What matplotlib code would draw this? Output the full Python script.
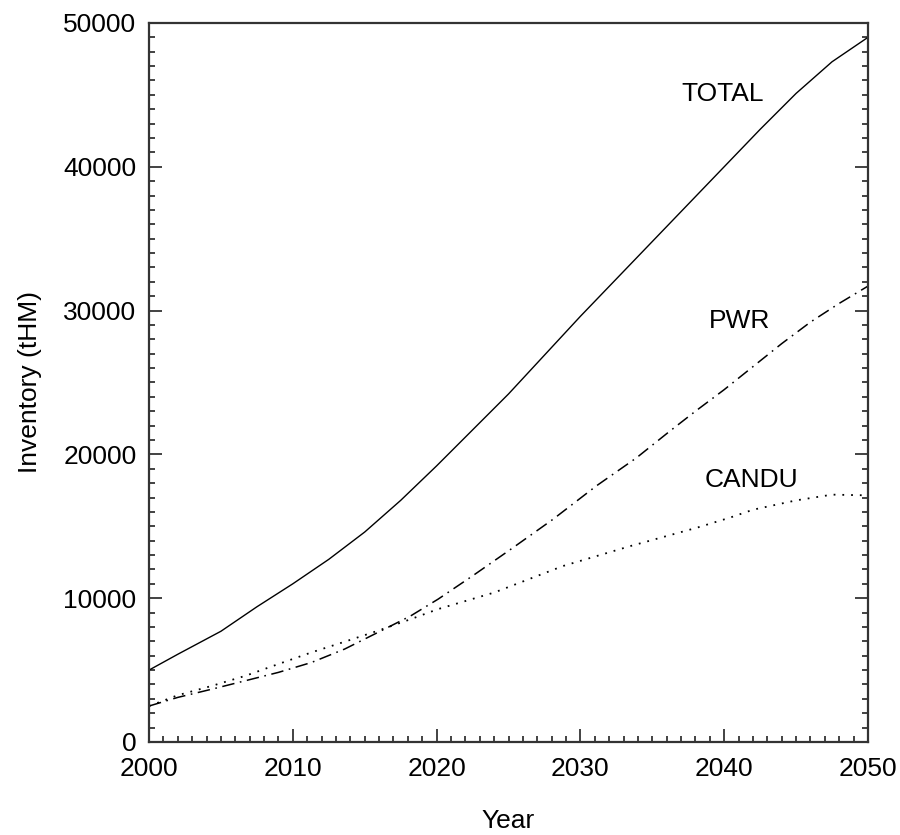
import matplotlib
matplotlib.use("Agg")
import matplotlib.pyplot as plt
from matplotlib.ticker import MultipleLocator

plt.rcParams['font.family'] = ['Liberation Sans', 'DejaVu Sans']
plt.rcParams['lines.scale_dashes'] = False

total_years = [2000, 2002, 2005, 2007.5, 2010, 2012.5, 2015, 2017.5, 2020,
               2022.5, 2025, 2027.5, 2030, 2032.5, 2035, 2037.5, 2040, 2042.5, 2045, 2047.5, 2050]
total_vals = [5000, 6100, 7700, 9400, 11000, 12700, 14600, 16800, 19200,
              21700, 24200, 26900, 29600, 32200, 34800, 37400, 40000, 42600, 45100, 47300, 49000]

pwr_years = [2000, 2002, 2004.4, 2006.7, 2009, 2011.3, 2013.6, 2015.9, 2018.2, 2020.1, 2022.5,
             2025.3, 2028.1, 2031.1, 2033.9, 2036.2, 2038, 2040, 2042, 2044, 2046,
             2048, 2050]
pwr_vals = [2500, 3100, 3680, 4260, 4840, 5530, 6460, 7610, 8770, 9930, 11550,
            13500, 15490, 17800, 19760, 21600, 23000, 24500, 26100, 27700, 29200,
            30500, 31700]

candu_years = [2000, 2002, 2004.4, 2006.7, 2009, 2011.3, 2013.6, 2015.9, 2018.2, 2020.1,
               2024, 2028.8, 2033.5, 2038.1, 2040.4, 2042, 2045, 2047.5, 2050]
candu_vals = [2500, 3250, 3910, 4600, 5420, 6230, 6970, 7730, 8540, 9240,
              10390, 12240, 13630, 14900, 15600, 16150, 16800, 17200, 17150]

labels = [("TOTAL", 2039.9, 45070), ("PWR", 2041.1, 29300), ("CANDU", 2041.9, 18190)]

fig = plt.figure(figsize=(9, 8.35), dpi=100)
ax = fig.add_axes([0.1656, 0.1114, 0.7988, 0.8611])

ax.plot(total_years, total_vals, color='black', lw=1.0, linestyle='-')
ax.plot(pwr_years, pwr_vals, color='black', lw=1.1, dashes=(9, 4, 1.2, 4))
ax.plot(candu_years, candu_vals, color='black', lw=1.3, dashes=(1.3, 5))

for txt, x, y in labels:
    ax.text(x, y, txt, ha='center', va='center', fontsize=19, color='black')

ax.set_xlim(2000, 2050)
ax.set_ylim(0, 50000)
ax.xaxis.set_major_locator(MultipleLocator(10))
ax.xaxis.set_minor_locator(MultipleLocator(1))
ax.yaxis.set_major_locator(MultipleLocator(10000))
ax.yaxis.set_minor_locator(MultipleLocator(1000))

ax.tick_params(which='both', direction='in', top=False, right=True, width=1.2, color='#222222',
               labelsize=19)
ax.tick_params(which='major', length=9.5, pad=11)
ax.tick_params(which='minor', length=4.5)
ax.tick_params(axis='y', which='major', pad=9)

for s in ax.spines.values():
    s.set_linewidth(1.6)
    s.set_color('#333333')

ax.set_xlabel("Year", fontsize=19, labelpad=20)
ax.set_ylabel("Inventory (tHM)", fontsize=19, labelpad=15)

fig.savefig("out.png", dpi=100)
